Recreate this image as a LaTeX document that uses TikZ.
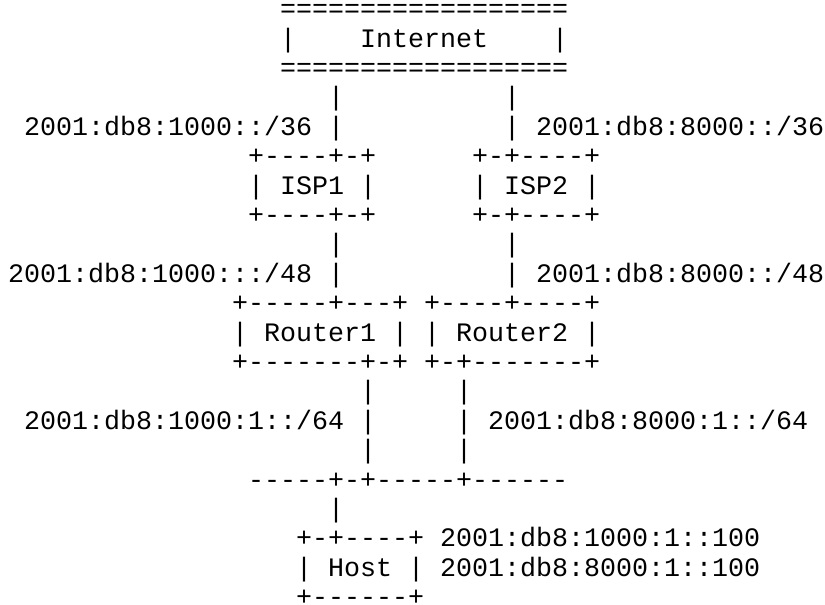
\documentclass[tikz,border=0pt]{standalone}
\usepackage{fontspec}
\usepackage{tikz}
\newfontfamily\asciifont[Ligatures=TeXOff]{Liberation Mono}
\tikzset{
ascii/.style={font=\asciifont\fontsize{26.66pt}{29.4pt}\selectfont,
  anchor=base west, inner sep=0pt, text=black},
}
\begin{document}
\begin{tikzpicture}[x=16pt, y=-29.4pt]
\useasboundingbox (-0.5,0.4) rectangle (51.06,20.95);
% Internet
\node[ascii] (inettop) at (17,1) {==================};
\node[ascii] (inetl) at (17,2) {|};
\node[ascii] (inet) at (22,2) {Internet};
\node[ascii] (inetr) at (34,2) {|};
\node[ascii] (inetbot) at (17,3) {==================};
% uplinks of the ISPs
\node[ascii] (up1a) at (20,4) {|};
\node[ascii] (up2a) at (31,4) {|};
\node[ascii] (pfx1) at (1,5) {2001:db8:1000::/36};
\node[ascii] (up1b) at (20,5) {|};
\node[ascii] (up2b) at (31,5) {|};
\node[ascii] (pfx2) at (33,5) {2001:db8:8000::/36};
% ISP1 and ISP2
\node[ascii] (isp1top) at (15,6) {+----+-+};
\node[ascii] (isp2top) at (29,6) {+-+----+};
\node[ascii] (isp1) at (15,7) {| ISP1 |};
\node[ascii] (isp2) at (29,7) {| ISP2 |};
\node[ascii] (isp1bot) at (15,8) {+----+-+};
\node[ascii] (isp2bot) at (29,8) {+-+----+};
% uplinks of the routers
\node[ascii] (rup1a) at (20,9) {|};
\node[ascii] (rup2a) at (31,9) {|};
\node[ascii] (site1) at (0,10) {2001:db8:1000:::/48};
\node[ascii] (rup1b) at (20,10) {|};
\node[ascii] (rup2b) at (31,10) {|};
\node[ascii] (site2) at (33,10) {2001:db8:8000::/48};
% Router1 and Router2
\node[ascii] (r1top) at (14,11) {+-----+---+};
\node[ascii] (r2top) at (26,11) {+----+----+};
\node[ascii] (r1) at (14,12) {| Router1 |};
\node[ascii] (r2) at (26,12) {| Router2 |};
\node[ascii] (r1bot) at (14,13) {+-------+-+};
\node[ascii] (r2bot) at (26,13) {+-+-------+};
% links to the LAN
\node[ascii] (lan1a) at (22,14) {|};
\node[ascii] (lan2a) at (28,14) {|};
\node[ascii] (net1) at (1,15) {2001:db8:1000:1::/64};
\node[ascii] (lan1b) at (22,15) {|};
\node[ascii] (lan2b) at (28,15) {|};
\node[ascii] (net2) at (30,15) {2001:db8:8000:1::/64};
\node[ascii] (lan1c) at (22,16) {|};
\node[ascii] (lan2c) at (28,16) {|};
\node[ascii] (lan) at (15,17) {-----+-+-----+------};
\node[ascii] (hostup) at (20,18) {|};
% Host
\node[ascii] (hosttop) at (18,19) {+-+----+};
\node[ascii] (addr1) at (27,19) {2001:db8:1000:1::100};
\node[ascii] (host) at (18,20) {| Host |};
\node[ascii] (addr2) at (27,20) {2001:db8:8000:1::100};
\node[ascii] (hostbot) at (18,21) {+------+};
\end{tikzpicture}
\end{document}
